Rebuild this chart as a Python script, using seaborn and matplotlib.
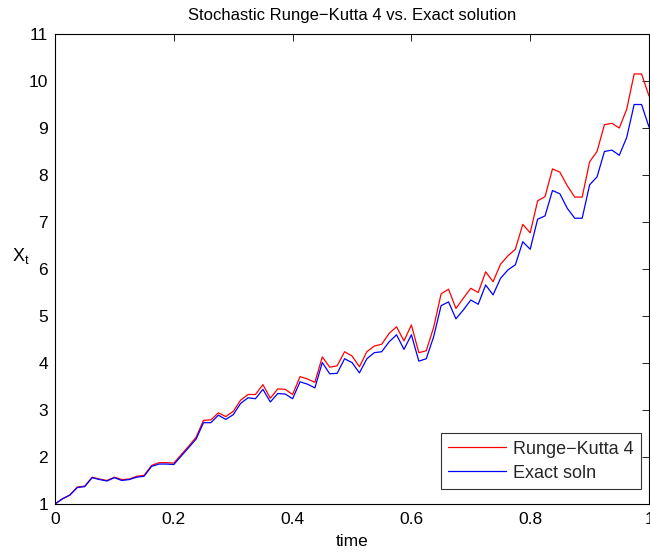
import numpy as np
import pandas as pd
import matplotlib
matplotlib.use("Agg")
import matplotlib.pyplot as plt
from matplotlib.lines import Line2D
import seaborn as sns

# time grid (N = 80 steps on [0, 1])
time = np.linspace(0.0, 1.0, 81)

rk4 = [1.00, 1.11, 1.19, 1.36, 1.38, 1.57, 1.53, 1.50, 1.57, 1.52,
       1.53, 1.59, 1.61, 1.82, 1.88, 1.88, 1.87, 2.05, 2.23, 2.42,
       2.78, 2.79, 2.94, 2.86, 2.97, 3.21, 3.33, 3.33, 3.54, 3.25,
       3.45, 3.44, 3.33, 3.71, 3.66, 3.59, 4.13, 3.91, 3.94, 4.24,
       4.15, 3.92, 4.24, 4.36, 4.40, 4.63, 4.77, 4.47, 4.81, 4.22,
       4.26, 4.76, 5.47, 5.57, 5.16, 5.38, 5.59, 5.50, 5.94, 5.73,
       6.10, 6.28, 6.42, 6.95, 6.77, 7.45, 7.54, 8.13, 8.06, 7.77,
       7.53, 7.53, 8.28, 8.50, 9.07, 9.10, 9.00, 9.40, 10.15, 10.15,
       9.68]

exact = [1.00, 1.11, 1.19, 1.35, 1.37, 1.56, 1.52, 1.49, 1.56, 1.50,
         1.52, 1.57, 1.59, 1.80, 1.85, 1.85, 1.84, 2.02, 2.20, 2.38,
         2.73, 2.73, 2.89, 2.80, 2.90, 3.14, 3.26, 3.24, 3.44, 3.17,
         3.35, 3.34, 3.24, 3.60, 3.55, 3.47, 4.01, 3.77, 3.78, 4.09,
         4.01, 3.79, 4.09, 4.22, 4.24, 4.45, 4.60, 4.29, 4.60, 4.04,
         4.09, 4.56, 5.22, 5.30, 4.94, 5.13, 5.34, 5.25, 5.66, 5.45,
         5.80, 5.98, 6.09, 6.58, 6.42, 7.06, 7.13, 7.67, 7.60, 7.29,
         7.08, 7.08, 7.79, 7.96, 8.50, 8.53, 8.42, 8.80, 9.50, 9.50,
         9.02]

series_names = ["Runge\u2212Kutta 4", "Exact soln"]
series_colors = ["#ff0000", "#0000ff"]
title = "Stochastic Runge\u2212Kutta 4 vs. Exact solution"
xticks = [0, 0.2, 0.4, 0.6, 0.8, 1]
xticklabels = ["0", "0.2", "0.4", "0.6", "0.8", "1"]
yticks = list(range(1, 12))

df = pd.concat([
    pd.DataFrame({"time": time, "X": rk4, "method": series_names[0]}),
    pd.DataFrame({"time": time, "X": exact, "method": series_names[1]}),
], ignore_index=True)

sns.set_theme(style="white")
plt.rcParams["font.family"] = ["Liberation Sans", "DejaVu Sans"]
plt.rcParams["mathtext.fontset"] = "custom"
plt.rcParams["mathtext.rm"] = "Liberation Sans"
plt.rcParams["mathtext.it"] = "Liberation Sans"

fig = plt.figure(figsize=(6.5, 5.56), dpi=100)
ax = fig.add_axes([55 / 650, 52 / 556, 594 / 650, 470 / 556])

sns.lineplot(data=df, x="time", y="X", hue="method",
             palette=dict(zip(series_names, series_colors)),
             linewidth=0.9, ax=ax, legend=False, estimator=None, sort=False)

ax.set_xlim(0, 1)
ax.set_ylim(1, 11)
ax.set_xticks(xticks)
ax.set_xticklabels(xticklabels)
ax.set_yticks(yticks)
ax.tick_params(direction="in", length=5, width=0.6, top=True, right=True,
               labelsize=12.5, colors="black")
ax.tick_params(axis="x", pad=6)
ax.tick_params(axis="y", pad=5)
for s in ax.spines.values():
    s.set_color("black")
    s.set_linewidth(0.8)
    s.set_visible(True)

ax.set_title(title, fontsize=12, pad=10, color="black")
ax.set_xlabel("time", fontsize=12.5, color="black", va="center")
ax.xaxis.set_label_coords(0.5, -(541 - 504) / 470)
ax.set_ylabel(r"$\mathrm{X_t}$", fontsize=13, rotation=0, color="black",
              va="center", ha="center")
ax.yaxis.set_label_coords((21 - 55) / 594, (504 - 256) / 470)

handles = [Line2D([], [], color=c, linewidth=0.9) for c in series_colors]
leg = ax.legend(handles, series_names, loc="lower right",
                bbox_to_anchor=((641 - 55) / 594, (504 - 489) / 470),
                borderaxespad=0, fontsize=13,
                frameon=True, fancybox=False, edgecolor="black",
                handlelength=3.2, borderpad=0.4, labelspacing=0.4,
                handletextpad=0.4)
leg.get_frame().set_linewidth(0.8)

fig.savefig("out.png", dpi=100)
